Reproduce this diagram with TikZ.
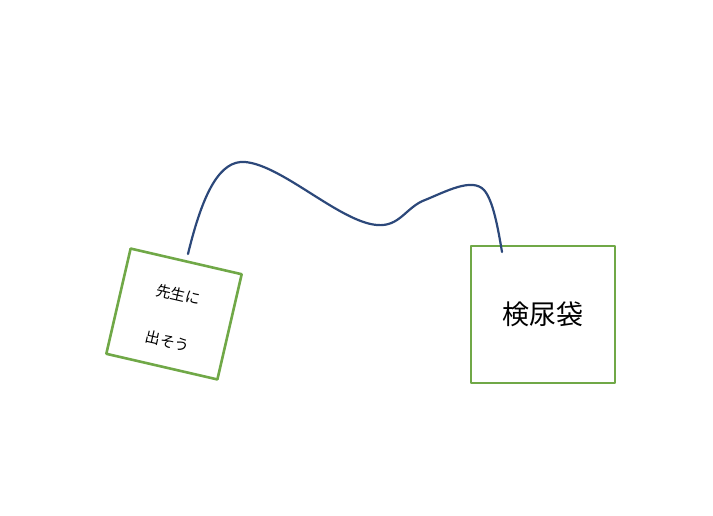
\documentclass[tikz,border=0pt]{standalone}
\usepackage{fontspec}
\newfontfamily\cjk{Noto Sans CJK JP}
\usepackage{xcolor}
\definecolor{boxgreen}{RGB}{112,168,71}
\definecolor{cordblue}{RGB}{44,72,122}

\begin{document}
\begin{tikzpicture}[x=1pt, y=-1pt, line cap=round, line join=round,
  card/.style={draw=boxgreen, line width=2.6pt, fill=white, inner sep=0pt}]
  \useasboundingbox (0,0) rectangle (713,515);
  \node[card, minimum width=114pt, minimum height=108pt, rotate=-13] (memo)
    at (174,314) {};
  \node[rotate=-13, yshift=-4pt, align=center,
    font=\cjk\fontsize{15}{48}\selectfont] (memotext) at (memo) {先生に\\出そう};
  \node[card, minimum width=144pt, minimum height=137pt,
    font=\cjk\fontsize{27}{30}\selectfont] (bag) at (543,314.5) {検尿袋};
  \coordinate (memotop) at (188,254);
  \coordinate (bagtop) at (502,252);
  \draw[cordblue, line width=2.2pt] (memotop)
    .. controls (203,192) and (220,160) .. (245,162)
    .. controls (282,165) and (340,222) .. (377,225)
    .. controls (400,227) and (406,207) .. (425,200)
    .. controls (445,192) and (472,177) .. (484,190)
    .. controls (493,200) and (498,228) .. (bagtop);
\end{tikzpicture}
\end{document}
